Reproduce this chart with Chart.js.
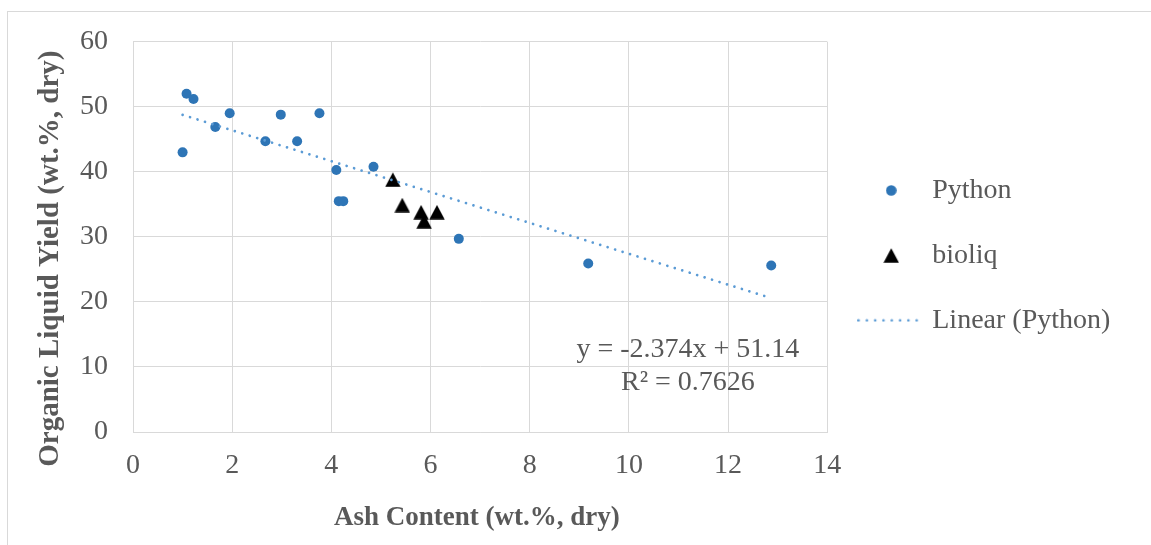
<!DOCTYPE html>
<html><head><meta charset="utf-8">
<script src="https://cdn.jsdelivr.net/npm/chart.js@4.4.1/dist/chart.umd.min.js"></script>
<style>
html,body{margin:0;padding:0;background:#fff;}
#wrap{position:relative;width:1151px;height:545px;overflow:hidden;}
#frame{position:absolute;left:7px;top:11px;width:1300px;height:700px;border:1px solid #d9d9d9;box-sizing:border-box;}
canvas{position:absolute;left:0;top:0;}
</style></head><body>
<div id="wrap"><div id="frame"></div><canvas id="c" width="1151" height="545"></canvas></div>
<script>
// ---- data ----
const pythonAsh   = [1.08, 1.22, 1.95, 2.98, 3.76, 1.66, 1.00, 2.67, 3.31, 4.10, 4.85, 4.15, 4.24, 6.57, 9.18, 12.87];
const pythonYield = [52.0, 51.2, 49.0, 48.8, 49.0, 46.9, 43.0, 44.7, 44.7, 40.3, 40.8, 35.5, 35.5, 29.7, 25.9, 25.6];
const bioliqAsh   = [5.24, 5.43, 5.81, 5.87, 6.13];
const bioliqYield = [38.8, 34.9, 33.8, 32.4, 33.8];
const trendSlope = -2.374;
const trendIntercept = 51.14;
const trendR2 = 0.7626;
const xTickValues = [0, 2, 4, 6, 8, 10, 12, 14];
const xTickLabels = ['0', '2', '4', '6', '8', '10', '12', '14'];
const yTickValues = [0, 10, 20, 30, 40, 50, 60];
const yTickLabels = ['0', '10', '20', '30', '40', '50', '60'];
const seriesNames = ['Python', 'bioliq', 'Linear (Python)'];
const xTitle = 'Ash Content (wt.%, dry)';
const yTitle = 'Organic Liquid Yield (wt.%, dry)';
const eqLine1 = 'y = -2.374x + 51.14';
const eqLine2 = 'R\u00b2 = 0.7626';

// ---- styling ----
const TXT = '#595959';
const GRID = '#d9d9d9';
const BLUE = '#2e75b6';
const TREND = '#5b9bd5';
const FONT = "'Liberation Serif', 'Times New Roman', serif";
Chart.defaults.font.family = FONT;
Chart.defaults.color = TXT;

function makeTriangle(w, h, color) {
  const c = document.createElement('canvas'); c.width = w; c.height = h;
  const g = c.getContext('2d');
  g.fillStyle = color; g.beginPath();
  g.moveTo(w / 2, 0.3); g.lineTo(w - 0.3, h - 0.3); g.lineTo(0.3, h - 0.3); g.closePath(); g.fill();
  return c;
}
function makeCircle(d, color) {
  const c = document.createElement('canvas'); c.width = d; c.height = d;
  const g = c.getContext('2d');
  g.fillStyle = color; g.beginPath(); g.arc(d / 2, d / 2, d / 2 - 0.2, 0, Math.PI * 2); g.fill();
  return c;
}
function makeDots(w, h, gap, r, color) {
  const c = document.createElement('canvas'); c.width = w; c.height = h;
  const g = c.getContext('2d');
  g.fillStyle = color;
  for (let x = r; x <= w - r + 0.01; x += gap) { g.beginPath(); g.arc(x, h / 2, r, 0, Math.PI * 2); g.fill(); }
  return c;
}
const triImg = makeTriangle(16, 15, '#000');
const circImg = makeCircle(11, BLUE);
const dotsImg = makeDots(68, 4, 8.3, 1.35, TREND);

const xMin = Math.min(...pythonAsh), xMax = Math.max(...pythonAsh);
const trendData = [xMin, xMax].map(v => ({x: v, y: trendSlope * v + trendIntercept}));

const labelPlugin = {
  id: 'trendLabel',
  afterDatasetsDraw(chart) {
    const {ctx, scales: {x, y}} = chart;
    ctx.save();
    ctx.font = '28px ' + FONT;
    ctx.fillStyle = TXT;
    ctx.textAlign = 'center';
    ctx.textBaseline = 'middle';
    ctx.fillText(eqLine1, x.getPixelForValue(11.19), y.getPixelForValue(12.6));
    ctx.fillText(eqLine2, x.getPixelForValue(11.19), y.getPixelForValue(7.6));
    ctx.restore();
  }
};
// give the legend box room to the canvas edge so its text is not clipped
const legendRoom = {
  id: 'legendRoom',
  afterLayout(chart) {
    const l = chart.legend;
    if (l) { l.right = chart.width; l.width = l.right - l.left; }
  }
};

new Chart(document.getElementById('c'), {
  type: 'scatter',
  data: {
    datasets: [
      {
        label: seriesNames[0],
        data: pythonAsh.map((v, i) => ({x: v, y: pythonYield[i]})),
        backgroundColor: BLUE, borderColor: BLUE, borderWidth: 0,
        pointRadius: 5, pointHoverRadius: 5, order: 2
      },
      {
        label: seriesNames[1],
        data: bioliqAsh.map((v, i) => ({x: v, y: bioliqYield[i]})),
        backgroundColor: '#000', borderColor: '#000', borderWidth: 0,
        pointStyle: triImg, pointRadius: 8, pointHoverRadius: 8, order: 1
      },
      {
        type: 'line',
        label: seriesNames[2],
        data: trendData,
        borderColor: TREND, borderWidth: 2.7, borderDash: [0.01, 7.8], borderCapStyle: 'round',
        pointRadius: 0, fill: false, showLine: true, order: 0
      }
    ]
  },
  options: {
    responsive: false,
    animation: false,
    devicePixelRatio: 1,
    layout: {padding: {top: 41, left: 0, right: 48, bottom: 0}},
    scales: {
      x: {
        type: 'linear', min: 0, max: 14,
        afterBuildTicks: s => { s.ticks = xTickValues.map(v => ({value: v})); },
        afterFit: s => { s.height = 113; },
        ticks: {
          callback: (v) => xTickLabels[xTickValues.indexOf(v)],
          font: {size: 28}, color: TXT, padding: 17, maxRotation: 0
        },
        grid: {color: GRID, lineWidth: 1, drawTicks: false},
        border: {display: true, color: GRID},
        title: {display: true, text: xTitle + '\u00a0', color: TXT, font: {size: 27, weight: 'bold'}, padding: {top: 0, bottom: 11}}
      },
      y: {
        type: 'linear', min: 0, max: 60,
        afterBuildTicks: s => { s.ticks = yTickValues.map(v => ({value: v})); },
        afterFit: s => { s.width = 133; },
        ticks: {
          callback: (v) => yTickLabels[yTickValues.indexOf(v)],
          font: {size: 28}, color: TXT, padding: 25
        },
        grid: {color: GRID, lineWidth: 1, drawTicks: false},
        border: {display: true, color: GRID},
        title: {display: true, text: yTitle + '\u00a0\u00a0\u00a0\u00a0\u00a0\u00a0', color: TXT, font: {size: 29, weight: 'bold'}, padding: {top: 33, bottom: 0}}
      }
    },
    plugins: {
      tooltip: {enabled: false},
      legend: {
        position: 'right',
        fullSize: false,
        align: 'center',
        title: {display: true, text: '', font: {size: 28}, padding: {top: 0, bottom: 3.4}},
        labels: {
          usePointStyle: true,
          pointStyleWidth: 54,
          padding: 37,
          font: {size: 28},
          color: TXT,
          generateLabels: () => [
            {text: seriesNames[0], pointStyle: circImg, fillStyle: BLUE, strokeStyle: BLUE, lineWidth: 0, hidden: false, datasetIndex: 0, fontColor: TXT},
            {text: seriesNames[1], pointStyle: triImg, fillStyle: '#000', strokeStyle: '#000', lineWidth: 0, hidden: false, datasetIndex: 1, fontColor: TXT},
            {text: seriesNames[2], pointStyle: dotsImg, fillStyle: TREND, strokeStyle: TREND, lineWidth: 0, hidden: false, datasetIndex: 2, fontColor: TXT}
          ]
        }
      }
    }
  },
  plugins: [labelPlugin, legendRoom]
});
</script>
</body></html>
